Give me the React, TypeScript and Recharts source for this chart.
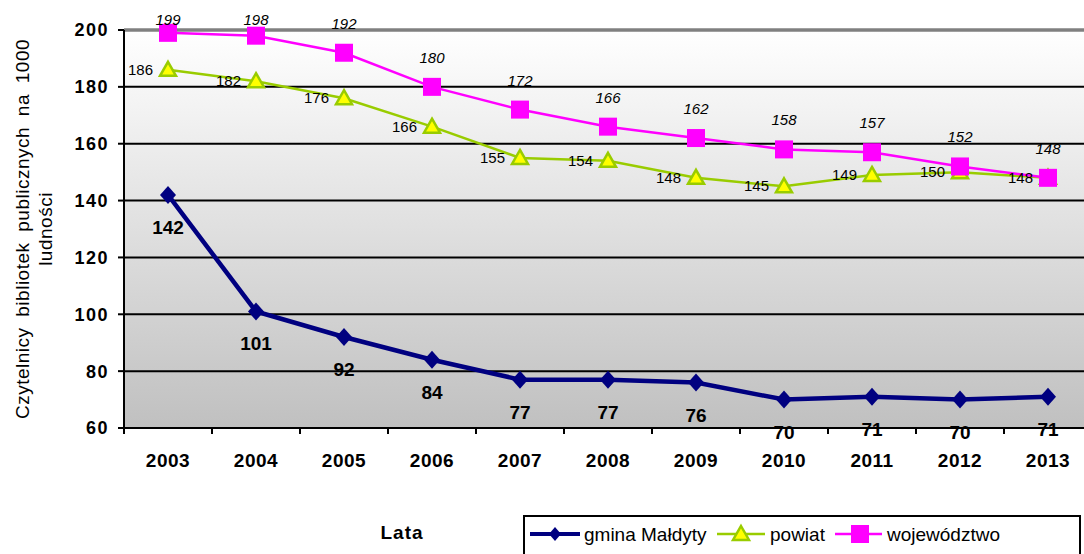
import {
  CartesianGrid,
  Line,
  LineChart,
  ReferenceLine,
  XAxis,
  YAxis,
} from "recharts";

const YEARS = ["2003", "2004", "2005", "2006", "2007", "2008", "2009", "2010", "2011", "2012", "2013"];
const GMINA = [142, 101, 92, 84, 77, 77, 76, 70, 71, 70, 71];
const POWIAT = [186, 182, 176, 166, 155, 154, 148, 145, 149, 150, 148];
const WOJ = [199, 198, 192, 180, 172, 166, 162, 158, 157, 152, 148];
const Y_TICKS = [60, 80, 100, 120, 140, 160, 180, 200];

const FONT = "Arial, 'Liberation Sans', sans-serif";
const NAVY = "#000080";
const GREEN = "#99cc00";
const MAGENTA = "#ff00ff";

const CHART_W = 1092;
const CHART_H = 554;
const PLOT_LEFT = 124;
const PLOT_TOP = 30;
const PLOT_BOTTOM = 428;
const HALF_BAND = (CHART_W - PLOT_LEFT) / YEARS.length / 2;

const data = YEARS.map((year, i) => ({
  year,
  gmina: GMINA[i],
  powiat: POWIAT[i],
  woj: WOJ[i],
}));

const Diamond = ({ cx, cy, size = 9 }: any) => (
  <path
    d={`M${cx},${cy - size} L${cx + size - 1},${cy} L${cx},${cy + size} L${cx - size + 1},${cy} Z`}
    fill={NAVY}
  />
);

const Triangle = ({ cx, cy }: any) => (
  <path
    d={`M${cx},${cy - 8} L${cx + 8},${cy + 6} L${cx - 8},${cy + 6} Z`}
    fill="#ffff00"
    stroke={GREEN}
    strokeWidth={2.5}
    strokeLinejoin="miter"
  />
);

const Square = ({ cx, cy, size = 9 }: any) => (
  <rect x={cx - size} y={cy - size} width={size * 2} height={size * 2} fill={MAGENTA} />
);

function XTick({ x, payload }: any) {
  return (
    <g>
      <line x1={x - HALF_BAND} y1={PLOT_BOTTOM} x2={x - HALF_BAND} y2={PLOT_BOTTOM + 6} stroke="#000" strokeWidth={2} />
      <text x={x} y={467} textAnchor="middle" fontFamily={FONT} fontSize={19} fontWeight="bold" fill="#000" letterSpacing={0.5}>
        {payload.value}
      </text>
    </g>
  );
}

function YTitle() {
  const cy = (PLOT_TOP + PLOT_BOTTOM) / 2;
  return (
    <g fontFamily={FONT} fontSize={19} fill="#000">
      <text x={22} y={cy} transform={`rotate(-90 22 ${cy})`} textAnchor="middle" dominantBaseline="central" letterSpacing={0.5} wordSpacing={5}>
        Czytelnicy bibliotek publicznych na 1000
      </text>
      <text x={45} y={cy} transform={`rotate(-90 45 ${cy})`} textAnchor="middle" dominantBaseline="central" letterSpacing={0.5}>
        ludności
      </text>
    </g>
  );
}

const gminaLabel = ({ x, y, value }: any) => (
  <text x={x} y={y + 39} textAnchor="middle" fontFamily={FONT} fontSize={19} fontWeight="bold" fill="#000">
    {value}
  </text>
);

const powiatLabel = ({ x, y, value }: any) => (
  <text x={x - 15} y={y + 5} textAnchor="end" fontFamily={FONT} fontSize={15} fill="#000">
    {value}
  </text>
);

const wojLabel = ({ x, y, value }: any) => (
  <text x={x} y={Math.max(y - 24, 25)} textAnchor="middle" fontFamily={FONT} fontSize={15} fontStyle="italic" fill="#000">
    {value}
  </text>
);

function LegendBox() {
  return (
    <svg
      width={560}
      height={40}
      style={{ position: "absolute", left: 523, top: 515 }}
    >
      <rect x={1} y={1} width={556} height={44} fill="#fff" stroke="#000" strokeWidth={2} />
      <g fontFamily={FONT} fontSize={19} fill="#000">
        <line x1={7} y1={19} x2={57} y2={19} stroke={NAVY} strokeWidth={4} />
        <Diamond cx={32} cy={19} size={7} />
        <text x={61} y={26}>gmina Małdyty</text>
        <line x1={194} y1={19} x2={242} y2={19} stroke={GREEN} strokeWidth={2.5} />
        <Triangle cx={218} cy={19} />
        <text x={247} y={26}>powiat</text>
        <line x1={312} y1={19} x2={359} y2={19} stroke={MAGENTA} strokeWidth={2.5} />
        <Square cx={337} cy={19} size={9} />
        <text x={364} y={26}>województwo</text>
      </g>
    </svg>
  );
}

export default function App() {
  return (
    <div
      style={{
        position: "absolute",
        left: 0,
        top: 0,
        width: 1084,
        height: 554,
        overflow: "hidden",
        background: "#fff",
      }}
    >
      <LineChart
        width={CHART_W}
        height={CHART_H}
        data={data}
        margin={{ top: PLOT_TOP, right: 0, bottom: 0, left: 0 }}
      >
        <defs>
          <linearGradient id="plotBg" x1="0" y1="0" x2="0" y2="1">
            <stop offset="0%" stopColor="#ffffff" />
            <stop offset="100%" stopColor="#c0c0c0" />
          </linearGradient>
        </defs>
        <CartesianGrid vertical={false} stroke="#000" strokeWidth={2} fill="url(#plotBg)" fillOpacity={1} />
        <ReferenceLine y={200} stroke="#808080" strokeWidth={3.5} />
        <XAxis
          dataKey="year"
          height={CHART_H - PLOT_BOTTOM}
          padding={{ left: HALF_BAND, right: HALF_BAND }}
          axisLine={{ stroke: "#000", strokeWidth: 2 }}
          tickLine={false}
          tick={<XTick />}
          interval={0}
          label={{ content: () => (
            <text x={402} y={539} textAnchor="middle" fontFamily={FONT} fontSize={19} fontWeight="bold" fill="#000" letterSpacing={1}>
              Lata
            </text>
          ) }}
        />
        <YAxis
          width={PLOT_LEFT}
          domain={[60, 200]}
          ticks={Y_TICKS}
          interval={0}
          axisLine={{ stroke: "#000", strokeWidth: 2 }}
          tickLine={{ stroke: "#000", strokeWidth: 2 }}
          tickSize={6}
          tickMargin={9}
          tick={{ fontFamily: FONT, fontSize: 18, fontWeight: "bold", fill: "#000", letterSpacing: 1.5 }}
          label={{ content: () => <YTitle /> }}
        />
        <Line
          dataKey="gmina"
          name="gmina Małdyty"
          stroke={NAVY}
          strokeWidth={4.5}
          dot={(p: any) => <Diamond key={`g${p.index}`} cx={p.cx} cy={p.cy} />}
          label={gminaLabel}
          isAnimationActive={false}
        />
        <Line
          dataKey="powiat"
          name="powiat"
          stroke={GREEN}
          strokeWidth={2.5}
          dot={(p: any) => <Triangle key={`p${p.index}`} cx={p.cx} cy={p.cy} />}
          label={powiatLabel}
          isAnimationActive={false}
        />
        <Line
          dataKey="woj"
          name="województwo"
          stroke={MAGENTA}
          strokeWidth={2.5}
          dot={(p: any) => <Square key={`w${p.index}`} cx={p.cx} cy={p.cy} />}
          label={wojLabel}
          isAnimationActive={false}
        />
      </LineChart>
      <LegendBox />
    </div>
  );
}
